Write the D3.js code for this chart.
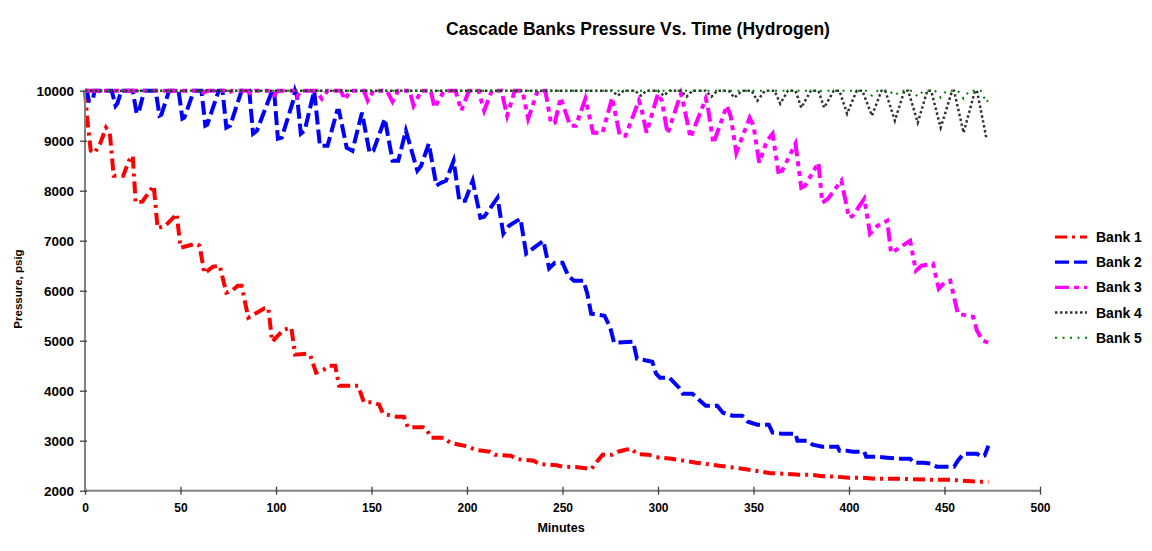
<!DOCTYPE html>
<html><head><meta charset="utf-8">
<script src="https://cdn.jsdelivr.net/npm/d3@7"></script>
<style>body{margin:0;background:#fff;} svg{display:block;font-family:"Liberation Sans",Arial,sans-serif;}</style>
</head><body>
<svg id="chart" width="1152" height="551"></svg>
<script>
const title = "Cascade Banks Pressure Vs. Time (Hydrogen)";
const xTicks = [0,50,100,150,200,250,300,350,400,450,500];
const yTicks = [2000,3000,4000,5000,6000,7000,8000,9000,10000];
const seriesNames = ["Bank 1","Bank 2","Bank 3","Bank 4","Bank 5"];

const bank1 = [[0,10000],[1,9500],[3,8800],[5,8750],[8,8950],[11,9260],[13,9150],[15,8300],[20,8300],[23,8600],[25,8700],[26.5,7760],[30,7780],[34,8000],[36,8100],[38,7250],[42,7300],[46,7450],[48,7540],[50,6860],[58,6940],[60,6900],[62.5,6350],[67,6480],[70.5,6500],[74,5960],[77,6000],[80,6100],[82,6100],[85.5,5460],[90,5560],[94,5650],[96,5650],[98,4980],[101,5100],[104,5220],[108,5260],[110,4720],[116,4740],[118,4700],[121,4360],[125,4420],[128,4500],[131,4500],[133,4100],[143,4100],[146,3770],[150,3770],[154,3720],[156,3540],[163,3480],[167,3480],[169,3270],[177,3270],[179,3220],[181,3060],[188,3060],[191,2960],[196,2920],[201,2880],[204,2820],[212,2780],[214.5,2720],[223,2700],[226,2630],[235,2600],[238,2530],[247,2510],[250,2480],[258,2470],[262,2450],[265,2430],[268,2580],[271,2720],[276,2720],[279,2780],[283,2820],[286,2840],[289,2730],[295,2720],[299,2670],[307,2640],[320,2560],[332,2500],[346,2430],[359,2350],[366,2340],[374,2320],[380,2320],[386,2290],[393,2280],[400,2260],[406,2260],[414,2240],[419,2240],[427,2240],[432,2230],[442,2220],[453,2220],[459,2200],[467,2180],[473,2180]];

const bank2 = [[0,10000],[1,10000],[2,9800],[4,9800],[5,10000],[14,10000],[16,9700],[17,9750],[19,10000],[25,10000],[27,9550],[28,9550],[31,10000],[37,10000],[39,9500],[40,9520],[44,10000],[49,10000],[51,9440],[52,9460],[57,10000],[61,10000],[63,9300],[64,9320],[70,10000],[72,10000],[74,9260],[76,9300],[82,10000],[86,10000],[88,9140],[90,9200],[98,10000],[99,10000],[101,9040],[103,9060],[109,9800],[110,10000],[111,9900],[113,9140],[115,9200],[120,10000],[123,8900],[127,8900],[132,9600],[133,9600],[137,8860],[140,8800],[145,9560],[149,8760],[151,8800],[157,9440],[161,8600],[164,8600],[168,9200],[174,8400],[176,8500],[180,8940],[184,8100],[186,8150],[189,8200],[193,8600],[196,7800],[199,7800],[203,8200],[207,7460],[209,7480],[216,7860],[219,7140],[222,7300],[228,7440],[231,6740],[233,6800],[240,7000],[243,6450],[246,6560],[250,6560],[253,6300],[256,6200],[261,6200],[263,5940],[265,5540],[272,5500],[275,5260],[277,4960],[287,4980],[289,4640],[297,4580],[299,4340],[301,4260],[306,4260],[311,4060],[313,3940],[318,3940],[322,3800],[325,3700],[331,3700],[334,3560],[339,3500],[344,3500],[347,3380],[352,3320],[358,3320],[360,3160],[365,3140],[372,3140],[373,3000],[378,3000],[381,2920],[386,2880],[394,2880],[395,2800],[399,2800],[402,2780],[408,2780],[409,2680],[415,2680],[420,2660],[426,2640],[432,2640],[434,2560],[439,2560],[443,2540],[446,2480],[455,2480],[457,2600],[460,2740],[467,2740],[469,2680],[471,2700],[473,2900]];

const bank3 = [[0,10000],[60,10000],[62,9960],[64,10000],[73,10000],[75,9950],[77,10000],[85,10000],[87,9930],[89,10000],[97,10000],[99,9910],[101,10000],[109,10000],[111,9880],[113,10000],[121,10000],[124,9840],[127,10000],[134,10000],[136,9820],[139,10000],[146,10000],[148,9800],[151,10000],[158,10000],[161,9780],[164,10000],[170,10000],[172,9700],[176,10000],[181,10000],[183,9660],[188,10000],[194,10000],[197,9600],[201,10000],[206,10000],[209,9600],[213,10000],[218,10000],[221,9500],[225,10000],[229,10000],[232,9440],[237,10000],[241,10000],[244,9340],[246,9360],[249,9860],[254,9300],[257,9300],[262,9840],[266,9160],[271,9160],[276,9860],[280,9100],[283,9100],[290,9800],[291,9700],[294,9160],[300,9940],[302,9800],[305,9140],[312,9940],[313,9800],[317,9060],[325,9840],[326,9700],[329,8940],[336,9700],[338,9500],[341,8760],[348,9460],[350,9300],[353,8560],[357,9000],[360,9140],[363,8380],[365,8400],[372,8940],[375,8060],[377,8100],[384,8560],[386,7760],[389,7840],[396,8200],[400,7460],[402,7500],[408,7840],[411,7140],[415,7300],[420,7400],[422,6760],[424,6800],[432,7000],[435,6400],[438,6500],[444,6540],[447,6040],[450,6160],[453,6200],[457,5540],[462,5500],[465,5480],[467,5200],[470,5000],[473,4960]];

const bank4 = [[0,10000],[276,10000],[279,9900],[282,10000],[288,10000],[291,9900],[294,10000],[300,10000],[303,9900],[306,10000],[312,10000],[315,9880],[318,10000],[325,10000],[328,9880],[331,10000],[337,10000],[340,9860],[344,10000],[349,10000],[352,9800],[356,10000],[361,10000],[364,9740],[368,10000],[372,10000],[375,9660],[380,10000],[384,10000],[387,9660],[392,10000],[395,10000],[399,9540],[404,10000],[407,10000],[412,9500],[417,10000],[419,10000],[424,9400],[429,10000],[431,10000],[436,9360],[441,10000],[443,10000],[448,9260],[454,10000],[455,10000],[460,9160],[466,10000],[467,10000],[472,9040]];

const bank5 = [[0,10000],[409,10000],[412,9900],[415,10000],[421,10000],[424,9900],[427,10000],[433,10000],[436,9880],[439,10000],[445,10000],[448,9860],[451,10000],[457,10000],[460,9840],[463,10000],[469,10000],[472,9760],[474,9900]];

const seriesData = [bank1, bank2, bank3, bank4, bank5];
const colors = ["#ff0000","#0000ff","#ff00ff","#333333","#008000"];
const dashes = ["12,5,3,5","14,5","14,5,5,5,5,5","2.5,2.5","2,5.5"];
const widths = [4,4,4,2.5,2];
const legendWidths = [3.2,3.2,3.2,2.5,2];

const svg = d3.select("#chart");
const m = {l:85, r:1040, t:90.7, b:490.7};
const x = d3.scaleLinear().domain([0,500]).range([m.l, m.r]);
const y = d3.scaleLinear().domain([2000,10000]).range([m.b, m.t]);

svg.append("text").attr("x",638).attr("y",35).attr("text-anchor","middle")
  .attr("font-size",17.5).attr("font-weight","bold").attr("fill","#000").text(title);

const line = d3.line().x(d=>x(d[0])).y(d=>y(d[1]));
const g = svg.append("g");
seriesData.forEach((s,i)=>{
  g.append("path").datum(s).attr("d",line).attr("fill","none")
   .attr("stroke",colors[i]).attr("stroke-width",widths[i])
   .attr("stroke-dasharray",dashes[i]).attr("stroke-linejoin","miter");
});

// axes
const axCol = "#808080";
const xAxis = svg.append("g").attr("transform",`translate(0,${m.b})`)
  .call(d3.axisBottom(x).tickValues(xTicks).tickSize(4).tickPadding(9).tickFormat(d3.format("d")));
xAxis.selectAll(".tick line").attr("stroke","#404040").attr("stroke-width",1.3).attr("y1",-4);
xAxis.selectAll(".tick text").attr("font-size",12).attr("font-weight","bold").attr("fill","#000")
  .attr("font-family","'Liberation Sans',Arial,sans-serif");

const yAxis = svg.append("g").attr("transform",`translate(${m.l},0)`)
  .call(d3.axisLeft(y).tickValues(yTicks).tickSize(5).tickPadding(6).tickFormat(d3.format("d")));
yAxis.selectAll(".tick line").attr("stroke","#404040").attr("stroke-width",1.3).attr("x2",-5).attr("x1",2);
yAxis.selectAll(".tick text").attr("font-size",13.5).attr("font-weight","bold").attr("fill","#000")
  .attr("font-family","'Liberation Sans',Arial,sans-serif");
xAxis.select(".domain").attr("stroke",axCol).attr("stroke-width",2).attr("d",`M${m.l},0H${m.r}`);
yAxis.select(".domain").attr("stroke",axCol).attr("stroke-width",2).attr("d",`M0,${m.b}V${m.t}`);

svg.append("text").attr("x",561).attr("y",532).attr("text-anchor","middle")
  .attr("font-size",12.5).attr("font-weight","bold").text("Minutes");
svg.append("text").attr("transform",`translate(21.5,289) rotate(-90)`).attr("text-anchor","middle")
  .attr("font-size",11.5).attr("font-weight","bold").text("Pressure, psig");

// legend
const lg = svg.append("g");
seriesNames.forEach((n,i)=>{
  const yy = 237 + i*25.2;
  lg.append("line").attr("x1",1055).attr("x2",1087).attr("y1",yy).attr("y2",yy)
    .attr("stroke",colors[i]).attr("stroke-width",legendWidths[i])
    .attr("stroke-dasharray",dashes[i]);
  lg.append("text").attr("x",1096).attr("y",yy+5).attr("font-size",14).attr("font-weight","bold").text(n);
});
</script>
</body></html>
